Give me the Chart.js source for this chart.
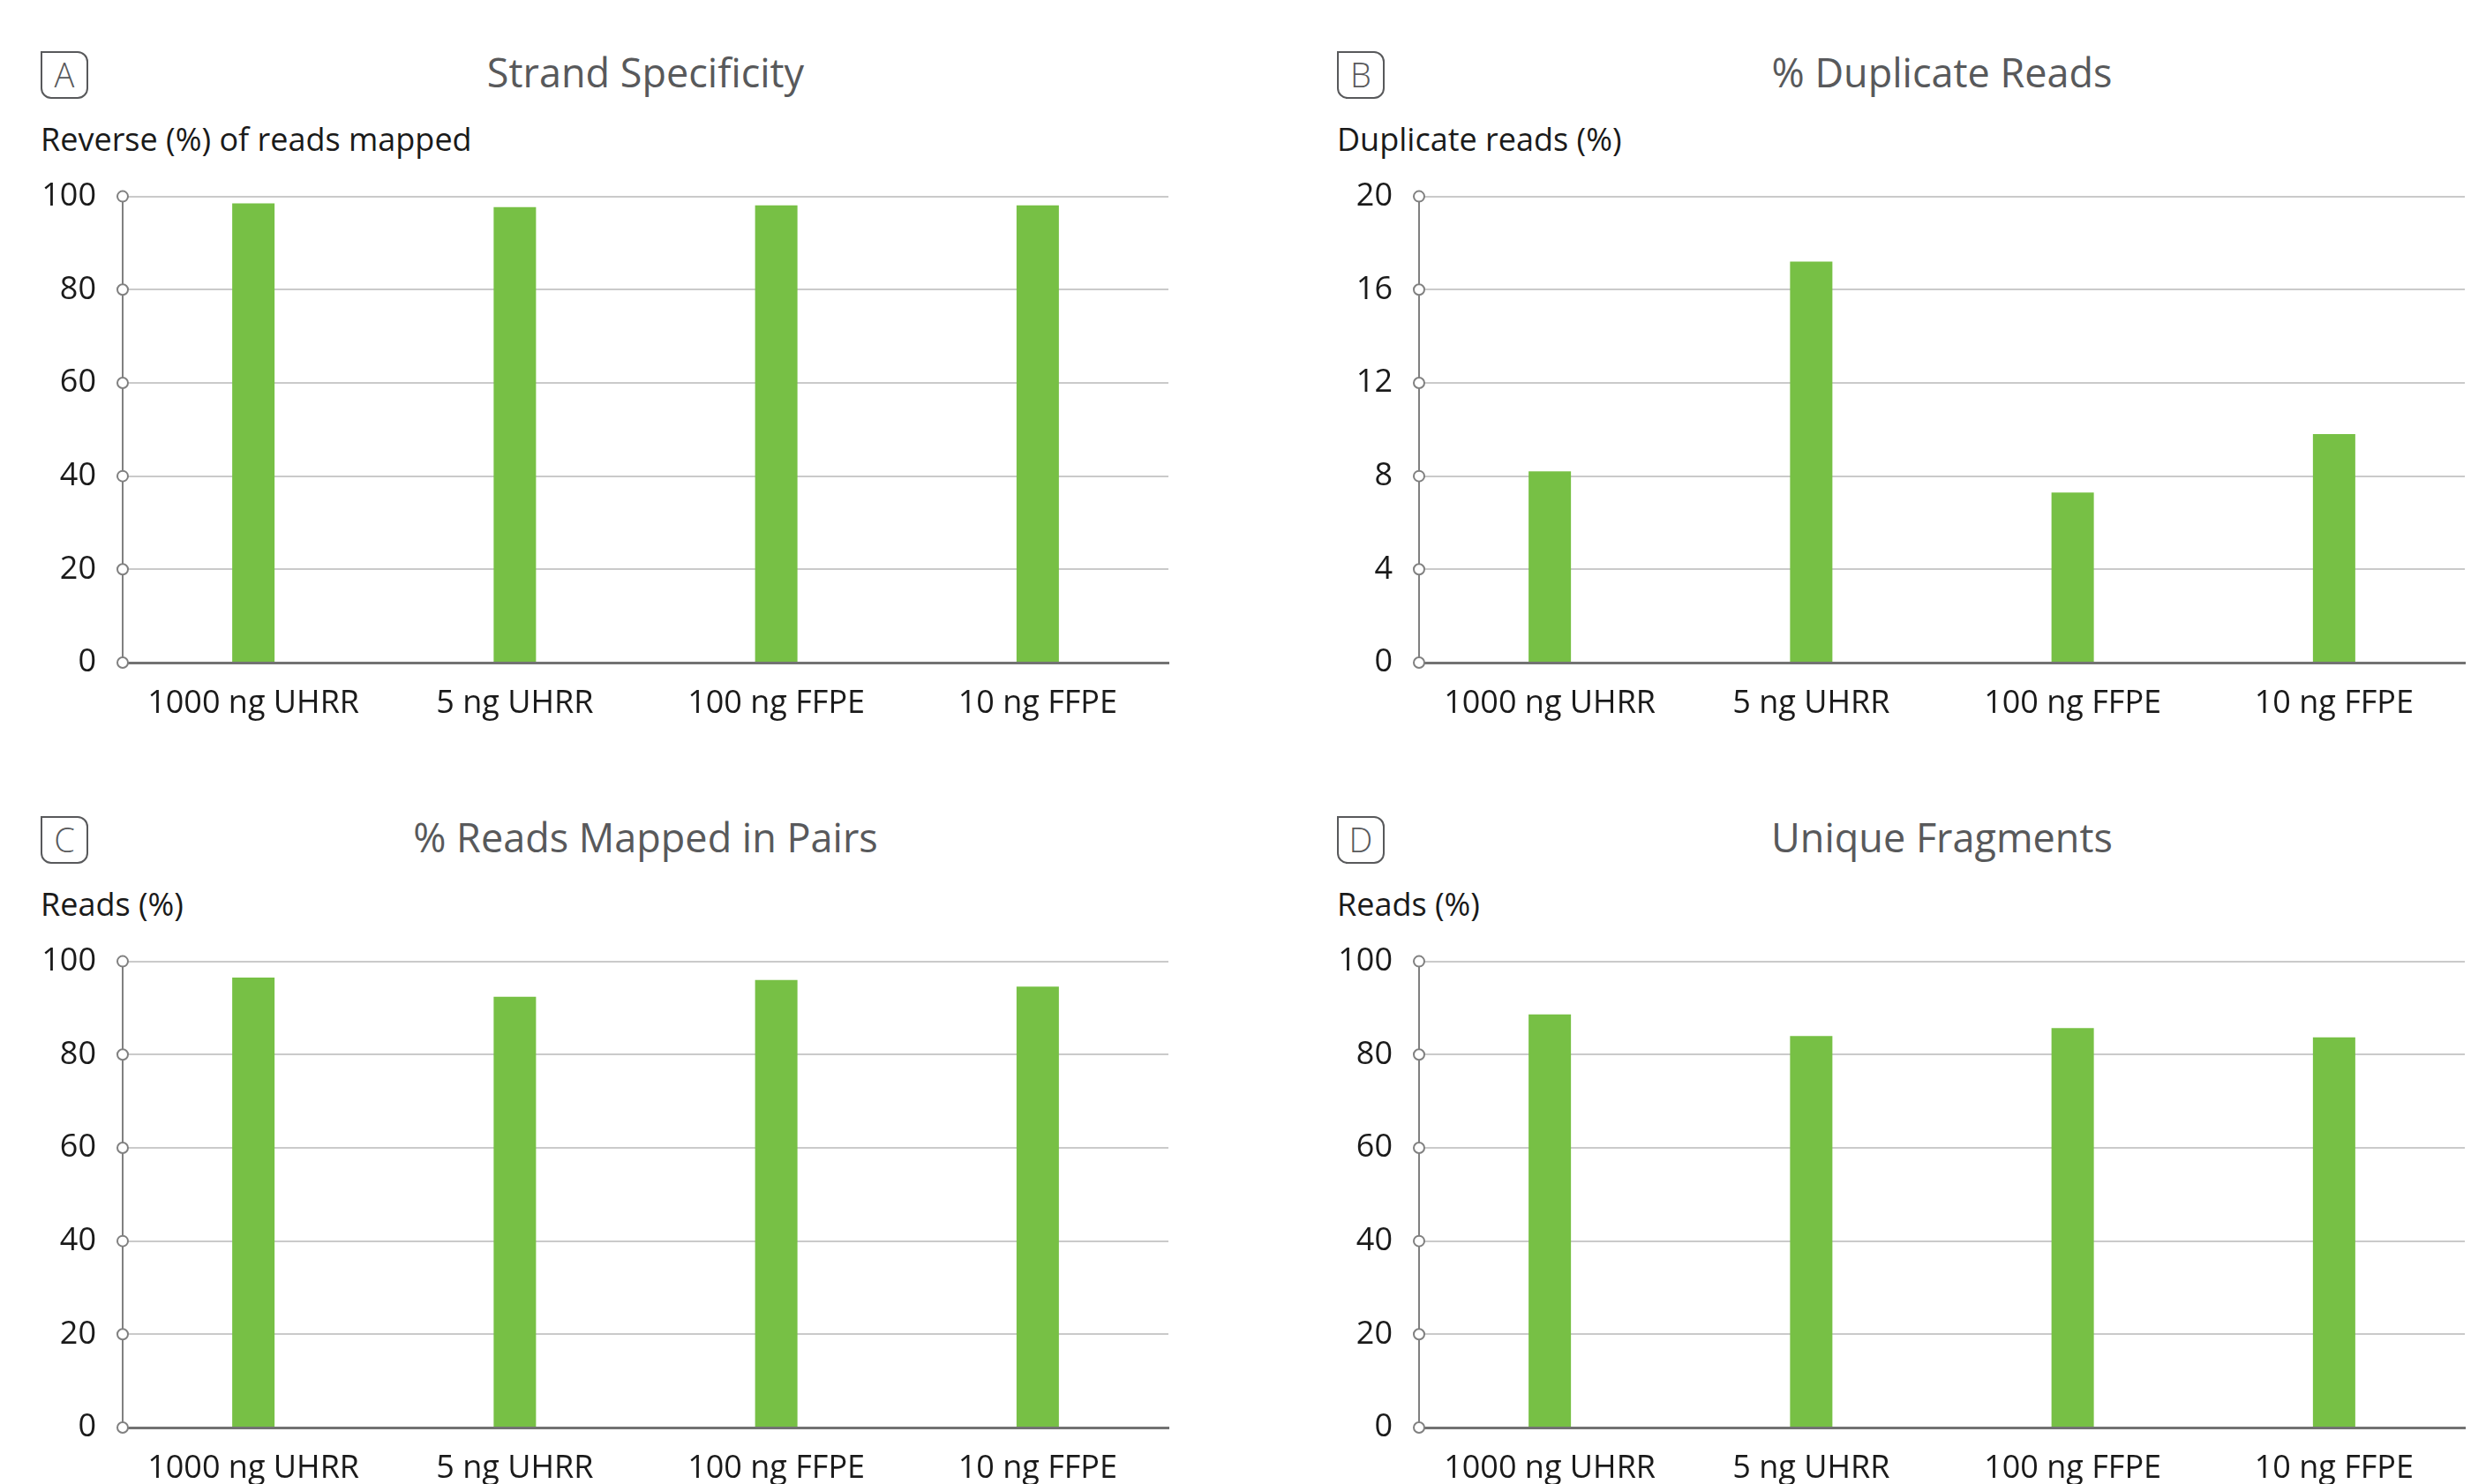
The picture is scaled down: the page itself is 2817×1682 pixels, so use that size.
<!DOCTYPE html>
<html>
<head>
<meta charset="utf-8">
<title>Library QC metrics</title>
<script src="https://cdn.jsdelivr.net/npm/chart.js@4.4.1/dist/chart.umd.min.js"></script>
<style>
  html, body { margin: 0; padding: 0; background: #fff; }
  body { width: 2817px; height: 1682px; position: relative; overflow: hidden; font-family: 'Open Sans', sans-serif; }
  .panel { position: absolute; width: 1340px; height: 860px; }
  .tag {
    position: absolute; left: 46px; top: 58px; width: 54px; height: 54px; box-sizing: border-box;
    border: 2.5px solid #58595b; border-radius: 0 12px 12px 12px;
    color: #58595b; font-size: 38px; font-weight: 300; line-height: 49px; text-align: center;
  }
  .title { position: absolute; left: 139px; width: 1185px; top: 59px; font-size: 45px; line-height: 45px; text-align: center; color: #58595b; }
  .ytitle { position: absolute; left: 46px; top: 140px; font-size: 36px; line-height: 36px; color: #1a1a1a; white-space: nowrap; }
  .plot { position: absolute; left: 0; top: 171px; width: 1340px; height: 669px; }
</style>
</head>
<body>

<div class="panel" style="left:0; top:0;">
  <div class="tag">A</div>
  <div class="title">Strand Specificity</div>
  <div class="ytitle">Reverse (%) of reads mapped</div>
  <div class="plot"><canvas id="chartA"></canvas></div>
</div>

<div class="panel" style="left:1469px; top:0;">
  <div class="tag">B</div>
  <div class="title">% Duplicate Reads</div>
  <div class="ytitle">Duplicate reads (%)</div>
  <div class="plot"><canvas id="chartB"></canvas></div>
</div>

<div class="panel" style="left:0; top:867px;">
  <div class="tag">C</div>
  <div class="title">% Reads Mapped in Pairs</div>
  <div class="ytitle">Reads (%)</div>
  <div class="plot"><canvas id="chartC"></canvas></div>
</div>

<div class="panel" style="left:1469px; top:867px;">
  <div class="tag">D</div>
  <div class="title">Unique Fragments</div>
  <div class="ytitle">Reads (%)</div>
  <div class="plot"><canvas id="chartD"></canvas></div>
</div>

<script>
var categories = ['1000 ng UHRR', '5 ng UHRR', '100 ng FFPE', '10 ng FFPE'];

var strandSpecificity = [98.5, 97.7, 98.1, 98.1];
var duplicateReads = [8.2, 17.2, 7.3, 9.8];
var readsMappedInPairs = [96.5, 92.4, 96.0, 94.6];
var uniqueFragments = [88.6, 84.0, 85.7, 83.7];

var percentTicks = [0, 20, 40, 60, 80, 100];
var duplicateTicks = [0, 4, 8, 12, 16, 20];

(function() {
  'use strict';

  var BAR_GREEN = '#77c045';
  var AXIS_GREY = '#808080';
  var GRID_GREY = '#cacaca';
  var LABEL_FONT = { family: "'Open Sans', sans-serif", size: 36 };

  // open circles sitting on the y axis at every tick
  var tickDots = {
    id: 'tickDots',
    afterDraw: function(chart) {
      var yScale = chart.scales.y;
      var ctx = chart.ctx;
      var x = chart.chartArea.left;
      ctx.save();
      ctx.lineWidth = 2;
      ctx.strokeStyle = AXIS_GREY;
      ctx.fillStyle = '#ffffff';
      yScale.ticks.forEach(function(t) {
        var py = yScale.getPixelForValue(t.value);
        ctx.beginPath();
        ctx.arc(x, py, 6, 0, Math.PI * 2);
        ctx.fill();
        ctx.stroke();
      });
      ctx.restore();
    }
  };

  function makeChart(canvasId, values, tickValues) {
    var canvas = document.getElementById(canvasId);
    if (!canvas) return null;

    return new Chart(canvas.getContext('2d'), {
      type: 'bar',
      data: {
        labels: categories,
        datasets: [{
          data: values,
          backgroundColor: BAR_GREEN,
          borderWidth: 0,
          categoryPercentage: 1,
          barPercentage: 0.162
        }]
      },
      options: {
        responsive: true,
        maintainAspectRatio: false,
        animation: false,
        layout: { padding: { top: 21, right: 16, bottom: 0, left: 0 } },
        plugins: {
          legend: { display: false },
          tooltip: { enabled: false }
        },
        scales: {
          x: {
            grid: { display: false, drawTicks: false },
            border: { display: true, color: '#727272', width: 3 },
            ticks: {
              color: '#1a1a1a',
              font: LABEL_FONT,
              padding: 25,
              autoSkip: false,
              maxRotation: 0
            },
            afterFit: function(scale) { scale.height = 89; }
          },
          y: {
            min: tickValues[0],
            max: tickValues[tickValues.length - 1],
            grid: {
              drawTicks: false,
              lineWidth: 2,
              color: function(c) {
                return c.tick && c.tick.value === tickValues[0] ? 'rgba(0,0,0,0)' : GRID_GREY;
              }
            },
            border: { display: true, color: AXIS_GREY, width: 2 },
            ticks: {
              color: '#1a1a1a',
              font: LABEL_FONT,
              padding: 30
            },
            afterBuildTicks: function(scale) {
              scale.ticks = tickValues.map(function(v) { return { value: v }; });
            },
            afterFit: function(scale) { scale.width = 139; }
          }
        }
      },
      plugins: [tickDots]
    });
  }

  function init() {
    makeChart('chartA', strandSpecificity, percentTicks);
    makeChart('chartB', duplicateReads, duplicateTicks);
    makeChart('chartC', readsMappedInPairs, percentTicks);
    makeChart('chartD', uniqueFragments, percentTicks);
  }

  document.addEventListener('DOMContentLoaded', init);
})();
</script>
</body>
</html>
